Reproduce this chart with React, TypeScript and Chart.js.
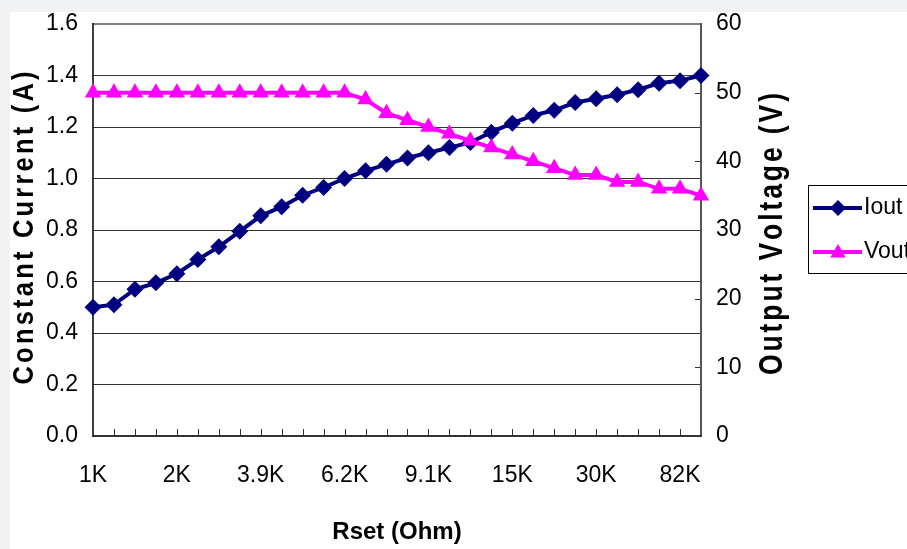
import React, { useEffect, useRef } from 'react';
import { Chart, registerables } from 'chart.js';

Chart.register(...registerables);

const categories = ['1K', '1.2K', '1.5K', '1.8K', '2K', '2.2K', '2.7K', '3.3K', '3.9K', '4.3K', '4.7K', '5.1K', '6.2K', '6.8K', '7.5K', '8.2K', '9.1K', '10K', '11K', '12K', '15K', '18K', '20K', '24K', '30K', '39K', '47K', '62K', '82K', '100K'];
const xTickLabels = ['1K', '2K', '3.9K', '6.2K', '9.1K', '15K', '30K', '82K'];
const ioutValues = [0.5, 0.51, 0.57, 0.595, 0.63, 0.685, 0.735, 0.795, 0.855, 0.89, 0.935, 0.965, 1.0, 1.03, 1.055, 1.08, 1.1, 1.12, 1.14, 1.18, 1.215, 1.245, 1.265, 1.295, 1.31, 1.325, 1.345, 1.37, 1.38, 1.4];
const voutValues = [50, 50, 50, 50, 50, 50, 50, 50, 50, 50, 50, 50, 50, 49, 47, 46, 45, 44, 43, 42, 41, 40, 39, 38, 38, 37, 37, 36, 36, 35];
const seriesNames = ['Iout', 'Vout'];
const leftTitle = 'Constant Current (A)';
const rightTitle = 'Output Voltage (V)';
const bottomTitle = 'Rset (Ohm)';

const FONT = "'Liberation Sans', Arial, Helvetica, sans-serif";
const NAVY = '#000080';
const MAGENTA = '#FF00FF';

function drawSpacedVertical(ctx: CanvasRenderingContext2D, text: string, baseX: number, cy: number, size: number, targetLen: number, sx: number) {
  ctx.save();
  ctx.translate(baseX, cy);
  ctx.rotate(-Math.PI / 2);
  ctx.font = `bold ${size}px ${FONT}`;
  ctx.fillStyle = '#000';
  ctx.textAlign = 'left';
  ctx.textBaseline = 'alphabetic';
  const chars = Array.from(text);
  const widths = chars.map((c) => ctx.measureText(c).width * sx);
  const total = widths.reduce((a, b) => a + b, 0);
  const gap = (targetLen - total) / (chars.length - 1);
  let x = -targetLen / 2;
  chars.forEach((c, i) => {
    ctx.save();
    ctx.translate(x, 0);
    ctx.scale(sx, 1);
    ctx.fillText(c, 0, 0);
    ctx.restore();
    x += widths[i] + gap;
  });
  ctx.restore();
}

function diamond(ctx: CanvasRenderingContext2D, x: number, y: number, r: number, color: string) {
  ctx.beginPath();
  ctx.moveTo(x, y - r);
  ctx.lineTo(x + r, y);
  ctx.lineTo(x, y + r);
  ctx.lineTo(x - r, y);
  ctx.closePath();
  ctx.fillStyle = color;
  ctx.fill();
}

function triangle(ctx: CanvasRenderingContext2D, x: number, y: number, r: number, color: string) {
  const s = Math.sin(Math.PI / 3) * r;
  ctx.beginPath();
  ctx.moveTo(x, y - r);
  ctx.lineTo(x + s, y + r / 2);
  ctx.lineTo(x - s, y + r / 2);
  ctx.closePath();
  ctx.fillStyle = color;
  ctx.fill();
}

const decorPlugin = {
  id: 'decor',
  beforeDraw(chart: any) {
    const ctx = chart.ctx as CanvasRenderingContext2D;
    ctx.save();
    ctx.fillStyle = '#f1f2f4';
    ctx.fillRect(0, 0, chart.width, chart.height);
    ctx.fillStyle = '#ffffff';
    ctx.fillRect(10, 12, chart.width - 10, chart.height - 12);
    ctx.restore();
  },
  beforeDatasetsDraw(chart: any) {
    const ctx = chart.ctx as CanvasRenderingContext2D;
    const { left, right, top, bottom } = chart.chartArea;
    const xs = chart.scales.x;
    const y1 = chart.scales.y1;
    ctx.save();
    ctx.strokeStyle = '#333';
    ctx.lineWidth = 1;
    for (let i = 1; i < categories.length; i++) {
      const px = Math.round(xs.getPixelForValue(i)) + 0.5;
      ctx.beginPath();
      ctx.moveTo(px, bottom);
      ctx.lineTo(px, bottom - 7);
      ctx.stroke();
    }
    y1.ticks.forEach((t: any) => {
      const py = Math.round(y1.getPixelForValue(t.value)) + 0.5;
      ctx.beginPath();
      ctx.moveTo(right - 6, py);
      ctx.lineTo(right, py);
      ctx.stroke();
    });
    ctx.lineWidth = 2;
    ctx.strokeStyle = '#808080';
    ctx.beginPath();
    ctx.moveTo(left, top);
    ctx.lineTo(right, top);
    ctx.stroke();
    ctx.strokeStyle = '#555';
    ctx.beginPath();
    ctx.moveTo(right, top - 1);
    ctx.lineTo(right, bottom + 1);
    ctx.stroke();
    ctx.strokeStyle = '#333';
    ctx.beginPath();
    ctx.moveTo(left, bottom);
    ctx.lineTo(right + 1, bottom);
    ctx.stroke();
    ctx.strokeStyle = '#000';
    ctx.lineWidth = 1.5;
    ctx.beginPath();
    ctx.moveTo(left, top - 1);
    ctx.lineTo(left, bottom + 1);
    ctx.stroke();
    ctx.restore();
  },
  afterDraw(chart: any) {
    const ctx = chart.ctx as CanvasRenderingContext2D;
    ctx.save();
    drawSpacedVertical(ctx, leftTitle, 33, 228, 30, 313, 0.85);
    drawSpacedVertical(ctx, rightTitle, 782, 234, 34, 282, 0.78);
    ctx.font = `bold 24px ${FONT}`;
    ctx.fillStyle = '#000';
    ctx.textAlign = 'center';
    ctx.textBaseline = 'alphabetic';
    ctx.fillText(bottomTitle, 397, 539);

    ctx.strokeStyle = '#000';
    ctx.lineWidth = 1;
    ctx.strokeRect(808.5, 185.5, 140, 88);
    const rows = [
      { y: 208, color: NAVY, kind: 'd' },
      { y: 252, color: MAGENTA, kind: 't' },
    ];
    rows.forEach((r, i) => {
      ctx.strokeStyle = r.color;
      ctx.lineWidth = 4;
      ctx.beginPath();
      ctx.moveTo(813, r.y);
      ctx.lineTo(862, r.y);
      ctx.stroke();
      if (r.kind === 'd') diamond(ctx, 838, r.y, 8, r.color);
      else triangle(ctx, 838, r.y + 1, 9, r.color);
      ctx.fillStyle = '#000';
      ctx.font = `23px ${FONT}`;
      ctx.textAlign = 'left';
      ctx.textBaseline = 'middle';
      ctx.fillText(seriesNames[i], 864, r.y);
    });
    ctx.restore();
  },
};

export default function App() {
  const ref = useRef<HTMLCanvasElement | null>(null);
  useEffect(() => {
    document.body.style.margin = '0';
    const canvas = ref.current;
    if (!canvas) return;
    const chart = new Chart(canvas, {
      type: 'line',
      data: {
        labels: categories,
        datasets: [
          {
            label: seriesNames[0],
            data: ioutValues,
            yAxisID: 'y',
            borderColor: NAVY,
            backgroundColor: NAVY,
            borderWidth: 4,
            pointStyle: 'rectRot',
            pointRadius: 8.5,
            pointBorderWidth: 0,
            pointBackgroundColor: NAVY,
            tension: 0,
            clip: false,
            order: 1,
          },
          {
            label: seriesNames[1],
            data: voutValues,
            yAxisID: 'y1',
            borderColor: MAGENTA,
            backgroundColor: MAGENTA,
            borderWidth: 4,
            pointStyle: 'triangle',
            pointRadius: 9.5,
            pointBorderWidth: 0,
            pointBackgroundColor: MAGENTA,
            tension: 0,
            clip: false,
            order: 0,
          },
        ],
      } as any,
      options: {
        responsive: false,
        animation: false,
        events: [],
        layout: { padding: { top: 24, left: 0, right: 0, bottom: 0 } },
        plugins: { legend: { display: false }, tooltip: { enabled: false }, title: { display: false } },
        scales: {
          x: {
            type: 'category',
            offset: false,
            grid: { display: false, drawTicks: false },
            border: { display: false },
            ticks: {
              autoSkip: false,
              maxRotation: 0,
              padding: 26,
              color: '#000',
              font: { family: FONT, size: 23 },
              callback: (_v: any, i: number) => (xTickLabels.includes(categories[i]) ? categories[i] : ''),
            },
            afterFit: (s: any) => { s.height = 113; s.paddingLeft = 0; s.paddingRight = 0; },
          },
          y: {
            position: 'left',
            min: 0,
            max: 1.6,
            grid: { color: '#333', lineWidth: 1, drawTicks: false },
            border: { display: false },
            ticks: {
              stepSize: 0.2,
              padding: 15,
              color: '#000',
              font: { family: FONT, size: 23 },
              callback: (v: any) => Number(v).toFixed(1),
            },
            afterFit: (s: any) => { s.width = 93; s.paddingTop = 0; s.paddingBottom = 0; },
          },
          y1: {
            position: 'right',
            min: 0,
            max: 60,
            grid: { drawOnChartArea: false, drawTicks: false },
            border: { display: false },
            ticks: {
              stepSize: 10,
              padding: 15,
              color: '#000',
              font: { family: FONT, size: 23 },
            },
            afterFit: (s: any) => { s.width = 206; s.paddingTop = 0; s.paddingBottom = 0; },
          },
        },
      } as any,
      plugins: [decorPlugin],
    });
    return () => chart.destroy();
  }, []);
  return (
    <div style={{ width: 907, height: 549, position: 'relative' }}>
      <canvas ref={ref} width={907} height={549} style={{ display: 'block', width: 907, height: 549 }} />
    </div>
  );
}
